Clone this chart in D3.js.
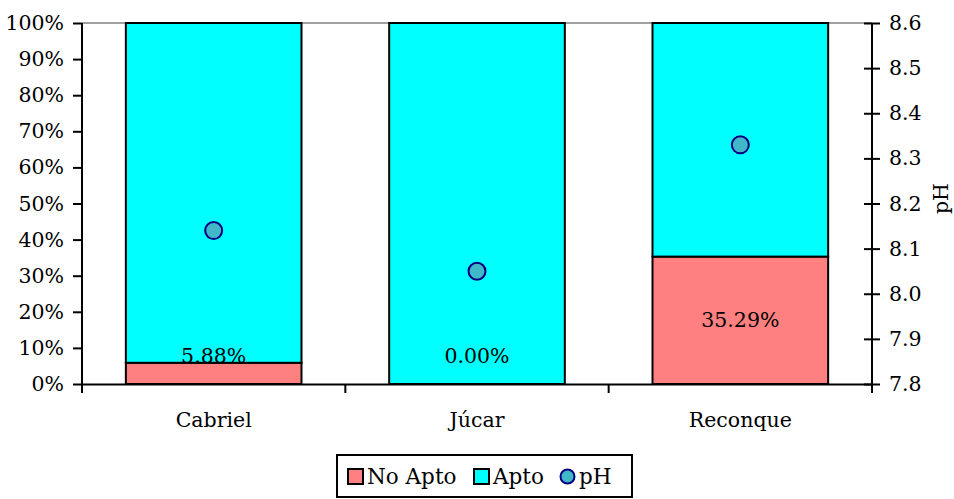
<!DOCTYPE html>
<html>
<head>
<meta charset="utf-8">
<script src="https://cdn.jsdelivr.net/npm/d3@7"></script>
<style>
  body { margin: 0; background: #fff; }
  text { font-family: "DejaVu Serif", serif; font-size: 20.5px; fill: #000; }
</style>
</head>
<body>
<div id="chart"></div>
<script>
// data
const categories = ["Cabriel", "Júcar", "Reconque"];
const noApto = [5.88, 0.00, 35.29];
const apto = [94.12, 100.00, 64.71];
const ph = [8.14, 8.05, 8.33];
const pctTicks = [0, 10, 20, 30, 40, 50, 60, 70, 80, 90, 100];
const phTicks = [7.8, 7.9, 8.0, 8.1, 8.2, 8.3, 8.4, 8.5, 8.6];

const W = 954, H = 499;
const margin = {top: 23, right: 82, bottom: 115, left: 82};
const width = W - margin.left - margin.right,
    height = H - margin.top - margin.bottom;
const fs = "20.5px";

const svg = d3.select("#chart")
  .append("svg")
    .attr("width", W)
    .attr("height", H)
  .append("g")
    .attr("transform", "translate(" + margin.left + "," + margin.top + ")");

const x = d3.scaleBand()
  .domain(categories)
  .range([0, width])
  .paddingInner(0.333)
  .paddingOuter(0.1665);

const y = d3.scaleLinear().domain([0, 100]).range([height, 0]);
const y2 = d3.scaleLinear().domain([7.8, 8.6]).range([height, 0]);

// top grid line
svg.append("line")
  .attr("x1", 0).attr("x2", width)
  .attr("y1", y(100)).attr("y2", y(100))
  .attr("stroke", "#808080").attr("stroke-width", 1.5);

// stacked bars
const rows = categories.map((c, i) => ({cat: c, noApto: noApto[i], apto: apto[i]}));
const stack = d3.stack().keys(["noApto", "apto"])(rows);
const colors = {noApto: "#ff8080", apto: "#00ffff"};

stack.forEach(layer => {
  svg.append("g").selectAll("rect")
    .data(layer)
    .join("rect")
      .attr("x", d => x(d.data.cat))
      .attr("width", x.bandwidth())
      .attr("y", d => y(d[1]))
      .attr("height", d => y(d[0]) - y(d[1]))
      .attr("fill", colors[layer.key])
      .attr("stroke", "#000")
      .attr("stroke-width", 2);
});

// data labels for No Apto
svg.append("g").selectAll("text")
  .data(rows)
  .join("text")
    .attr("x", d => x(d.cat) + x.bandwidth() / 2)
    .attr("y", d => Math.min((y(0) + y(d.noApto)) / 2, y(0) - 28))
    .attr("dy", "0.35em")
    .attr("text-anchor", "middle")
    .text(d => d.noApto.toFixed(2) + "%");

// pH points
svg.append("g").selectAll("circle")
  .data(ph)
  .join("circle")
    .attr("cx", (d, i) => x(categories[i]) + x.bandwidth() / 2)
    .attr("cy", d => y2(d))
    .attr("r", 8.5)
    .attr("fill", "#40b8c8")
    .attr("stroke", "#000080")
    .attr("stroke-width", 2);

// left axis
const left = svg.append("g")
  .call(d3.axisLeft(y).tickValues(pctTicks).tickFormat(d => d + "%").tickSize(9).tickPadding(9));
// right axis
const right = svg.append("g")
  .attr("transform", "translate(" + width + ",0)")
  .call(d3.axisRight(y2).tickValues(phTicks).tickFormat(d3.format(".1f")).tickSize(8).tickPadding(9));
right.selectAll(".tick line").attr("x1", -8);

// bottom axis
const bottom = svg.append("g")
  .attr("transform", "translate(0," + height + ")")
  .call(d3.axisBottom(x).tickSize(0).tickPadding(28));
bottom.selectAll(".tick line").remove();
bottom.selectAll(".sep")
  .data([0, 1, 2, 3])
  .join("line")
    .attr("x1", i => i * x.step()).attr("x2", i => i * x.step())
    .attr("y1", 0).attr("y2", 9)
    .attr("stroke", "#000").attr("stroke-width", 2);

[left, right, bottom].forEach(a => {
  a.selectAll(".domain").attr("stroke", "#000").attr("stroke-width", 2);
  a.selectAll(".tick line").attr("stroke", "#000").attr("stroke-width", 2);
  a.selectAll("text").style("font-family", "DejaVu Serif, serif").style("font-size", fs).attr("fill", "#000");
});
left.select(".domain").attr("d", "M0," + (height + 9) + "V0");
right.select(".domain").attr("d", "M0," + (height + 9) + "V0");

// right axis title
svg.append("text")
  .attr("transform", "translate(" + (width + 69) + "," + (height / 2 - 5) + ") rotate(-90)")
  .attr("text-anchor", "middle")
  .attr("dy", "0.35em")
  .text("pH");

// legend
const leg = svg.append("g").attr("transform", "translate(" + (337 - margin.left) + "," + (455 - margin.top) + ")");
leg.append("rect")
  .attr("width", 295).attr("height", 42)
  .attr("fill", "#fff").attr("stroke", "#000").attr("stroke-width", 2);
const items = [
  {label: "No Apto", type: "rect", color: colors.noApto, x: 11},
  {label: "Apto", type: "rect", color: colors.apto, x: 137},
  {label: "pH", type: "circle", color: "#40b8c8", x: 223}
];
items.forEach(it => {
  if (it.type === "rect") {
    leg.append("rect")
      .attr("x", it.x).attr("y", 14).attr("width", 15).attr("height", 15)
      .attr("fill", it.color).attr("stroke", "#000").attr("stroke-width", 2);
  } else {
    leg.append("circle")
      .attr("cx", it.x + 7.5).attr("cy", 21.5).attr("r", 7)
      .attr("fill", it.color).attr("stroke", "#000080").attr("stroke-width", 2);
  }
  leg.append("text")
    .attr("x", it.x + 19).attr("y", 21.5).attr("dy", "0.35em")
    .style("font-size", "21.5px")
    .text(it.label);
});
</script>
</body>
</html>
